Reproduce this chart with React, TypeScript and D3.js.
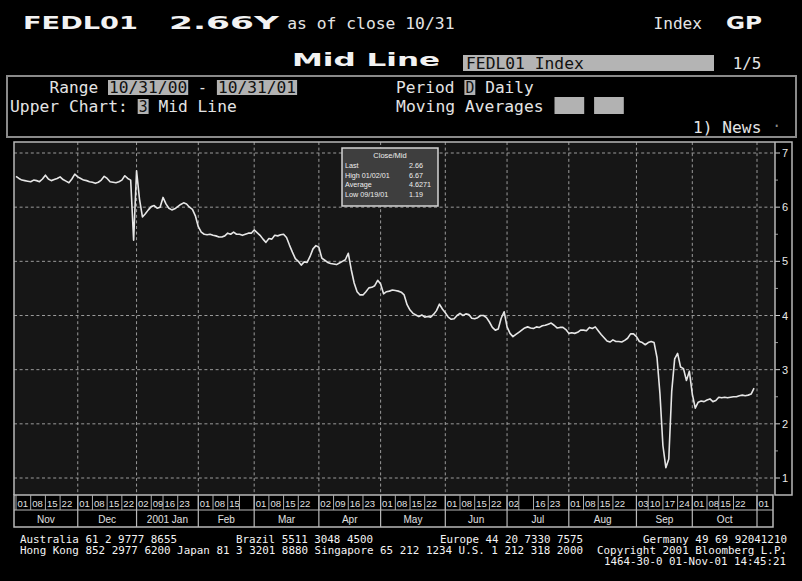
import React from "react";
import * as d3 from "d3";

// ---- Data: FEDL01 daily mid values, one per trading day ----
const nov00 = [6.57,6.53,6.50,6.49,6.48,6.47,6.50,6.49,6.47,6.52,6.59,6.52,6.49,6.51,6.53,6.56,6.51,6.48,6.45,6.52,6.61];
const dec00 = [6.56,6.53,6.50,6.49,6.47,6.46,6.44,6.46,6.50,6.57,6.53,6.47,6.46,6.45,6.47,6.50,6.58,6.53,6.50,5.39];
const jan01 = [6.67,6.15,5.82,5.88,5.95,6.01,6.03,5.98,6.00,6.18,6.06,5.98,5.95,5.97,6.01,6.05,6.08,6.06,6.00,5.96,5.84];
const feb01 = [5.64,5.54,5.50,5.49,5.50,5.48,5.47,5.45,5.45,5.47,5.52,5.50,5.54,5.50,5.50,5.48,5.50,5.52,5.52];
const mar01 = [5.58,5.53,5.48,5.41,5.35,5.42,5.41,5.48,5.47,5.49,5.50,5.44,5.30,5.17,5.05,5.00,4.93,4.99,4.98,5.09,5.23,5.29];
const apr01 = [5.26,5.06,5.02,4.98,4.96,4.95,4.94,4.97,5.00,5.03,5.15,4.85,4.60,4.44,4.38,4.38,4.44,4.51,4.52,4.55,4.65];
const may01 = [4.58,4.40,4.44,4.45,4.47,4.46,4.45,4.43,4.38,4.20,4.10,4.04,4.01,3.98,4.01,3.97,3.98,3.97,4.02,4.09,4.21,4.12];
const jun01 = [4.05,3.97,3.93,3.94,4.00,4.04,4.00,4.03,4.02,3.95,3.94,3.96,4.00,4.00,3.96,3.88,3.78,3.73,3.75,3.95,4.07];
const jul01 = [3.79,3.67,3.61,3.65,3.69,3.73,3.77,3.79,3.77,3.76,3.79,3.78,3.81,3.82,3.84,3.86,3.82,3.77,3.78,3.78,3.74];
const aug01 = [3.67,3.68,3.67,3.69,3.73,3.73,3.72,3.78,3.76,3.79,3.72,3.65,3.59,3.53,3.51,3.55,3.52,3.52,3.51,3.54,3.58,3.66,3.66];
const sep01 = [3.61,3.52,3.50,3.46,3.50,3.52,3.50,3.22,2.55,1.60,1.19,1.35,2.60,3.20,3.30,3.05,3.02,2.80,2.97];
const oct01 = [2.55,2.29,2.40,2.42,2.41,2.44,2.46,2.41,2.43,2.49,2.48,2.49,2.48,2.49,2.50,2.50,2.52,2.53,2.52,2.53,2.55,2.66];

const startDate = "2000-11-01";
const endDate = "2001-11-01";
const holidays = ["2000-11-23","2000-12-25","2001-01-01","2001-01-15","2001-02-19","2001-05-28","2001-07-04","2001-09-03","2001-10-08"];

const monthStarts = ["2000-11-01","2000-12-01","2001-01-01","2001-02-01","2001-03-01","2001-04-01","2001-05-01","2001-06-01","2001-07-01","2001-08-01","2001-09-01","2001-10-01","2001-11-01"];
const monthLabels = ["Nov","Dec","2001 Jan","Feb","Mar","Apr","May","Jun","Jul","Aug","Sep","Oct",""];

const weekTickDates = [
  "2000-11-01","2000-11-08","2000-11-15","2000-11-22",
  "2000-12-01","2000-12-08","2000-12-15","2000-12-22",
  "2001-01-02","2001-01-09","2001-01-16","2001-01-23",
  "2001-02-01","2001-02-08","2001-02-15","2001-02-22",
  "2001-03-01","2001-03-08","2001-03-15","2001-03-22",
  "2001-04-02","2001-04-09","2001-04-16","2001-04-23",
  "2001-05-01","2001-05-08","2001-05-15","2001-05-22",
  "2001-06-01","2001-06-08","2001-06-15","2001-06-22",
  "2001-07-02","2001-07-09","2001-07-16","2001-07-23",
  "2001-08-01","2001-08-08","2001-08-15","2001-08-22",
  "2001-09-03","2001-09-10","2001-09-17","2001-09-24",
  "2001-10-01","2001-10-08","2001-10-15","2001-10-22",
  "2001-11-01",
];
const weekTickLabels = [
  "01","08","15","22",
  "01","08","15","22",
  "02","09","16","23",
  "01","08","15","",
  "01","08","15","22",
  "02","09","16","23",
  "01","08","15","22",
  "01","08","15","22",
  "02","","16","23",
  "01","08","15","22",
  "03","10","17","24",
  "01","08","15","22",
  "01",
];

const yTicks = [1, 2, 3, 4, 5, 6, 7];
const yMinorTicks = [1.5, 2.5, 3.5, 4.5, 5.5, 6.5];

const statLabels = ["Last", "High 01/02/01", "Average", "Low 09/19/01"];
const statValues = ["2.66", "6.67", "4.6271", "1.19"];

const footerLines: [string, number, number, number][] = [
  ["Australia 61 2 9777 8655", 20, 543, 157],
  ["Brazil 5511 3048 4500", 236, 543, 137],
  ["Europe 44 20 7330 7575", 440, 543, 143],
  ["Germany 49 69 92041210", 643, 543, 144],
  ["Hong Kong 852 2977 6200 Japan 81 3 3201 8880 Singapore 65 212 1234 U.S. 1 212 318 2000", 20, 554, 563],
  ["Copyright 2001 Bloomberg L.P.", 597, 554, 190],
  ["1464-30-0 01-Nov-01 14:45:21", 604, 565, 182],
];

// ---- helpers ----
const fmt = d3.utcFormat("%Y-%m-%d");
function buildTradingDays(): string[] {
  const out: string[] = [];
  const hol = new Set(holidays);
  const end = new Date(endDate + "T00:00:00Z");
  for (let d = new Date(startDate + "T00:00:00Z"); d <= end; d = d3.utcDay.offset(d, 1)) {
    const wd = d.getUTCDay();
    const s = fmt(d);
    if (wd === 0 || wd === 6 || hol.has(s)) continue;
    out.push(s);
  }
  return out;
}

const CW = 9.9; // narrow terminal font cell width
const NARROW = "'DejaVu Sans Mono', monospace";
const BIG = "'DejaVu Sans', sans-serif";
const SANS = "'Liberation Sans', Arial, sans-serif";

function NText({ s, col, y, fill = "#e4e4e4", box = false, boxFill = "#b2b2b2" }: any) {
  const x = 10 + col * CW;
  const w = s.length * CW;
  return (
    <g>
      {box && <rect x={x - 1} y={y - 13} width={w + 1} height={15} fill={boxFill} />}
      <text x={x} y={y} fontFamily={NARROW} fontSize={15.5} fill={box ? "#111" : fill}
        textLength={w - 1} lengthAdjust="spacingAndGlyphs">{s}</text>
    </g>
  );
}

function BText({ s, x, y, w }: any) {
  return (
    <text x={x} y={y} fontFamily={BIG} fontWeight="bold" fontSize={17.5} fill="#f2f2f2"
      textLength={w} lengthAdjust="spacingAndGlyphs">{s}</text>
  );
}

export default function App() {
  const W = 802, H = 581;
  const values = [...nov00, ...dec00, ...jan01, ...feb01, ...mar01, ...apr01, ...may01, ...jun01, ...jul01, ...aug01, ...sep01, ...oct01];
  const days = buildTradingDays();
  const idxOf = (ds: string) => {
    const i = d3.bisectLeft(days, ds);
    return Math.min(i, days.length - 1);
  };

  const plotL = 14, plotR = 775, plotT = 142, plotB = 495;
  const x = d3.scaleLinear().domain([0, days.length - 1]).range([16, 757]);
  const y = d3.scaleLinear().domain([1, 7]).range([478, 153]);

  const line = d3.line<number>().x((_, i) => x(i)).y((v) => y(v));
  const monthX = monthStarts.map((m) => x(idxOf(m)));

  const grid = "#9a9a9a";
  const dash = "3 2.6";

  return (
    <svg width={W} height={H} style={{ position: "absolute", left: 0, top: 0, background: "#000" }}>
      <rect x={0} y={0} width={W} height={H} fill="#000" />

      {/* Header row 1 */}
      <BText s="FEDL01" x={23} y={29} w={115} />
      <BText s="2.66Y" x={169} y={29} w={110} />
      <NText s="as of close 10/31" col={28} y={29} />
      <NText s="Index" col={65} y={29} />
      <BText s="GP" x={726} y={29} w={36} />

      {/* Header row 2 */}
      <BText s="Mid Line" x={292} y={66} w={148} />
      <rect x={463} y={55} width={251} height={16} fill="#b4b4b4" />
      <text x={466} y={69} fontFamily={NARROW} fontSize={15.5} fill="#111" textLength={12 * CW - 1} lengthAdjust="spacingAndGlyphs">FEDL01 Index</text>
      <NText s="1/5" col={73} y={69} />

      {/* Panel box */}
      <rect x={7} y={76} width={789} height={61} fill="none" stroke="#8a8a8a" strokeWidth={2} />
      <NText s="Range" col={4} y={93} />
      <NText s="10/31/00" col={10} y={93} box />
      <NText s="-" col={19} y={93} />
      <NText s="10/31/01" col={21} y={93} box />
      <NText s="Period" col={39} y={93} />
      <NText s="D" col={46} y={93} box />
      <NText s="Daily" col={48} y={93} />
      <NText s="Upper Chart:" col={0} y={112} />
      <NText s="3" col={13} y={112} box />
      <NText s="Mid Line" col={15} y={112} />
      <NText s="Moving Averages" col={39} y={112} />
      <rect x={10 + 55 * CW} y={97} width={3 * CW} height={17} fill="#b2b2b2" />
      <rect x={10 + 59 * CW} y={97} width={3 * CW} height={17} fill="#b2b2b2" />
      <NText s="1) News" col={69} y={133} />
      <NText s="·" col={77} y={131} fill="#888" />

      {/* Plot area */}
      <rect x={plotL} y={plotT} width={plotR - plotL} height={plotB - plotT} fill="#161616" />
      {yTicks.map((t) => (
        <line key={"h" + t} x1={plotL} x2={plotR} y1={y(t)} y2={y(t)} stroke={grid} strokeWidth={1} strokeDasharray={dash} />
      ))}
      {monthX.slice(1).map((mx, i) => (
        <line key={"v" + i} x1={mx} x2={mx} y1={plotT} y2={plotB} stroke={grid} strokeWidth={1} strokeDasharray={dash} />
      ))}
      <path d={line(values) || ""} fill="none" stroke="#e6e6e6" strokeWidth={1.6} strokeLinejoin="round" />

      {/* Right axis column */}
      <rect x={plotR} y={plotT} width={792 - plotR} height={plotB - plotT} fill="#000" />
      {yTicks.map((t) => (
        <g key={"yt" + t}>
          <line x1={plotR} x2={plotR + 5} y1={y(t)} y2={y(t)} stroke="#cfcfcf" strokeWidth={1} />
          <text x={plotR + 7} y={y(t) + 4} fontFamily={SANS} fontSize={11} fill="#e8e8e8">{t}</text>
        </g>
      ))}
      {yMinorTicks.map((t) => (
        <line key={"ym" + t} x1={plotR} x2={plotR + 3} y1={y(t)} y2={y(t)} stroke="#9a9a9a" strokeWidth={1} />
      ))}

      {/* Frame */}
      <path d={`M${plotL},${plotB} L${plotL},${plotT} L792,${plotT} L792,${plotB} L${plotR},${plotB} L${plotR},${plotT}`}
        fill="none" stroke="#b8b8b8" strokeWidth={1.5} />

      {/* Date / month rows */}
      <rect x={plotL} y={plotB} width={773 - plotL} height={32} fill="#000" stroke="#b8b8b8" strokeWidth={1.5} />
      <line x1={plotL} x2={773} y1={510} y2={510} stroke="#b8b8b8" strokeWidth={1.2} />
      {weekTickDates.map((d, i) => {
        const tx = x(idxOf(d));
        return (
          <g key={"wk" + i}>
            <line x1={tx} x2={tx} y1={plotB} y2={510} stroke="#aaa" strokeWidth={1} />
            <text x={tx + 1.5} y={507} fontFamily={SANS} fontSize={9.5} fill="#e0e0e0">{weekTickLabels[i]}</text>
          </g>
        );
      })}
      {monthX.slice(1).map((mx, i) => (
        <line key={"ms" + i} x1={mx} x2={mx} y1={plotB} y2={527} stroke="#b8b8b8" strokeWidth={1.2} />
      ))}
      {monthLabels.map((m, i) => {
        const left = i === 0 ? plotL : monthX[i];
        const right = i < monthX.length - 1 ? monthX[i + 1] : 773;
        return (
          <text key={"ml" + i} x={(left + right) / 2} y={523} textAnchor="middle"
            fontFamily={SANS} fontSize={10} fill="#e0e0e0">{m}</text>
        );
      })}

      {/* Stats box */}
      <rect x={342} y={148} width={96} height={58} fill="#3e3e3e" stroke="#d4d4d4" strokeWidth={1.5} />
      <text x={390} y={158} textAnchor="middle" fontFamily={SANS} fontSize={7.5} fill="#eee">Close/Mid</text>
      {statLabels.map((s, i) => (
        <g key={"st" + i}>
          <text x={345} y={168 + i * 9.5} fontFamily={SANS} fontSize={7.2} fill="#eee">{s}</text>
          <text x={409} y={168 + i * 9.5} fontFamily={SANS} fontSize={7.2} fill="#eee">{statValues[i]}</text>
        </g>
      ))}

      {/* Footer */}
      {footerLines.map(([s, fx, fy, tl], i) => (
        <text key={"ft" + i} x={fx} y={fy} fontFamily={NARROW} fontSize={10} fill="#f4f4f4"
          textLength={tl} lengthAdjust="spacingAndGlyphs">{s}</text>
      ))}
    </svg>
  );
}
